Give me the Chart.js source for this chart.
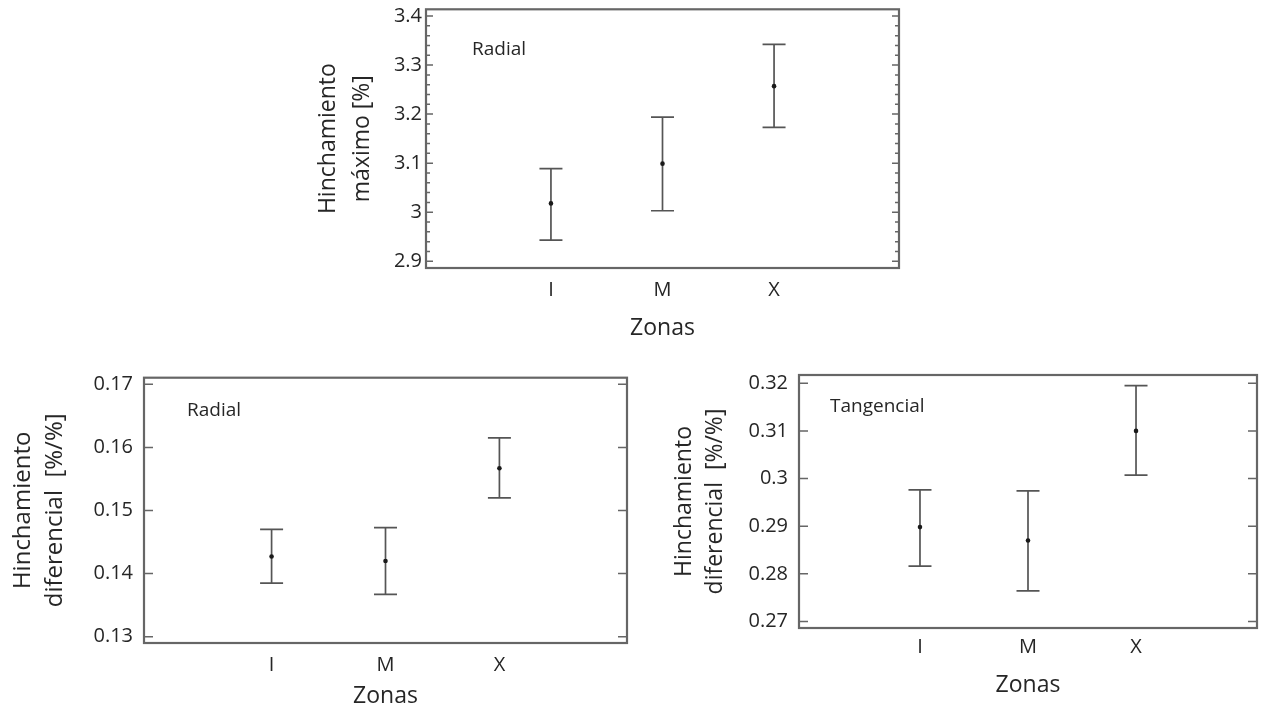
<!DOCTYPE html>
<html>
<head>
<meta charset="utf-8">
<script src="https://cdn.jsdelivr.net/npm/chart.js@4/dist/chart.umd.min.js"></script>
<style>
  html, body { margin: 0; padding: 0; background: #ffffff; width: 1261px; height: 712px; overflow: hidden; }
  .panel { position: absolute; }
</style>
</head>
<body>
<div class="panel" style="left:300px;top:-10px;width:620px;height:355px"><canvas id="c1"></canvas></div>
<div class="panel" style="left:0px;top:350px;width:640px;height:362px"><canvas id="c2"></canvas></div>
<div class="panel" style="left:660px;top:350px;width:601px;height:362px"><canvas id="c3"></canvas></div>
<script>
// ---------- data ----------
const zonas = ['I', 'M', 'X'];
const zonaPos = [1, 2, 3];

// Panel 1: Hinchamiento máximo [%], radial
const maxMean = [3.018, 3.099, 3.257];
const maxLow  = [2.943, 3.003, 3.173];
const maxHigh = [3.089, 3.194, 3.342];
const maxTicks = [2.9, 3.0, 3.1, 3.2, 3.3, 3.4];
const maxTickLabels = ['2.9', '3', '3.1', '3.2', '3.3', '3.4'];

// Panel 2: Hinchamiento diferencial [%/%], radial
const radMean = [0.1427, 0.1420, 0.1567];
const radLow  = [0.1385, 0.1367, 0.1520];
const radHigh = [0.1470, 0.1473, 0.1615];
const radTicks = [0.13, 0.14, 0.15, 0.16, 0.17];
const radTickLabels = ['0.13', '0.14', '0.15', '0.16', '0.17'];

// Panel 3: Hinchamiento diferencial [%/%], tangencial
const tanMean = [0.2898, 0.2870, 0.3100];
const tanLow  = [0.2816, 0.2764, 0.3007];
const tanHigh = [0.2976, 0.2974, 0.3195];
const tanTicks = [0.27, 0.28, 0.29, 0.30, 0.31, 0.32];
const tanTickLabels = ['0.27', '0.28', '0.29', '0.3', '0.31', '0.32'];

// ---------- style ----------
const FONT = "'Open Sans', 'Noto Sans', sans-serif";
const WEIGHT = '500';
const TXT = '#262626';
const LINE = '#555555';

const panelPlugin = {
  id: 'panel',
  beforeDatasetsDraw(chart, args, o) {
    const ctx = chart.ctx, xs = chart.scales.x, ys = chart.scales.y;
    ctx.save();
    ctx.strokeStyle = LINE;
    ctx.lineWidth = 1.7;
    for (let i = 0; i < o.pos.length; i++) {
      const px = xs.getPixelForValue(o.pos[i]);
      const pl = ys.getPixelForValue(o.low[i]);
      const ph = ys.getPixelForValue(o.high[i]);
      ctx.beginPath();
      ctx.moveTo(px, pl); ctx.lineTo(px, ph);
      ctx.moveTo(px - 11.5, pl); ctx.lineTo(px + 11.5, pl);
      ctx.moveTo(px - 11.5, ph); ctx.lineTo(px + 11.5, ph);
      ctx.stroke();
    }
    ctx.restore();
  },
  afterDraw(chart, args, o) {
    const ctx = chart.ctx, ys = chart.scales.y, ca = chart.chartArea;
    ctx.save();
    ctx.strokeStyle = '#666666';
    ctx.lineWidth = 2.2;
    ctx.strokeRect(ca.left, ca.top, ca.right - ca.left, ca.bottom - ca.top);
    ctx.lineWidth = 1.5;
    ctx.beginPath();
    ys.ticks.forEach(t => {
      const py = ys.getPixelForValue(t.value);
      ctx.moveTo(ca.left, py); ctx.lineTo(ca.left + o.majorLen, py);
      ctx.moveTo(ca.right, py); ctx.lineTo(ca.right - o.majorLen, py);
    });
    if (o.minorStep) {
      const first = ys.ticks[0].value, last = ys.ticks[ys.ticks.length - 1].value;
      const n = Math.round((last - first) / o.minorStep);
      for (let k = 0; k <= n; k++) {
        if (k % o.minorPer === 0) continue;
        const py = ys.getPixelForValue(first + k * o.minorStep);
        ctx.moveTo(ca.left, py); ctx.lineTo(ca.left + o.minorLen, py);
        ctx.moveTo(ca.right, py); ctx.lineTo(ca.right - o.minorLen, py);
      }
    }
    ctx.stroke();
    ctx.fillStyle = TXT;
    ctx.font = WEIGHT + ' 19px ' + FONT;
    ctx.textBaseline = 'alphabetic';
    ctx.textAlign = 'left';
    ctx.fillText(o.note, ca.left + o.noteDx, ca.top + o.noteDy);
    ctx.restore();
  }
};

function makeChart(id, cfg) {
  return new Chart(document.getElementById(id), {
    type: 'scatter',
    data: {
      datasets: [{
        data: zonaPos.map((p, i) => ({ x: p, y: cfg.mean[i] })),
        pointRadius: 2.3,
        pointBackgroundColor: '#1a1a1a',
        pointBorderWidth: 0,
        showLine: false
      }]
    },
    options: {
      responsive: true,
      maintainAspectRatio: false,
      animation: false,
      events: [],
      layout: { padding: cfg.padding },
      plugins: {
        legend: { display: false },
        tooltip: { enabled: false },
        panel: {
          pos: zonaPos, low: cfg.low, high: cfg.high,
          majorLen: cfg.majorLen, minorStep: cfg.minorStep, minorPer: cfg.minorPer, minorLen: 4,
          note: cfg.note, noteDx: cfg.noteDx, noteDy: cfg.noteDy
        }
      },
      scales: {
        x: {
          type: 'linear',
          min: -0.12, max: 4.12,
          afterBuildTicks: s => { s.ticks = zonaPos.map(v => ({ value: v })); },
          afterFit: s => { s.height = cfg.xHeight; },
          grid: { display: false, drawTicks: false },
          border: { display: false },
          ticks: {
            padding: cfg.xTickPad, autoSkip: false, maxRotation: 0,
            color: TXT, font: { family: FONT, size: 20, weight: WEIGHT },
            callback: (v, i) => zonas[i]
          },
          title: {
            display: true, text: 'Zonas', color: TXT,
            font: { family: FONT, size: 23, weight: WEIGHT, lineHeight: cfg.titleLH },
            padding: { top: 0, bottom: cfg.xTitlePad }
          }
        },
        y: {
          type: 'linear',
          min: cfg.yMin, max: cfg.yMax,
          afterBuildTicks: s => { s.ticks = cfg.ticks.map(v => ({ value: v })); },
          afterFit: s => { s.width = cfg.yWidth; },
          grid: { display: false, drawTicks: false },
          border: { display: false },
          ticks: {
            padding: cfg.yTickPad, autoSkip: false,
            color: TXT, font: { family: FONT, size: 20, weight: WEIGHT },
            callback: (v, i) => cfg.tickLabels[i]
          },
          title: {
            display: true, text: cfg.yTitle, color: TXT,
            font: { family: FONT, size: cfg.yTitleSize, weight: WEIGHT, lineHeight: cfg.titleLH },
            padding: { top: cfg.yTitlePad, bottom: 0 }
          }
        }
      }
    },
    plugins: [panelPlugin]
  });
}

makeChart('c1', {
  mean: maxMean, low: maxLow, high: maxHigh,
  ticks: maxTicks, tickLabels: maxTickLabels,
  yMin: 2.8863, yMax: 3.4137,
  padding: { left: 0, top: 19.3, right: 21, bottom: 0 },
  yWidth: 126, xHeight: 77,
  yTickPad: 4, xTickPad: 10,
  yTitle: ['Hinchamiento', 'máximo [%]'], yTitleSize: 23, titleLH: '34px', yTitlePad: 11, xTitlePad: 0,
  majorLen: 7, minorStep: 0.02, minorPer: 5,
  note: 'Radial', noteDx: 46, noteDy: 46
});

makeChart('c2', {
  mean: radMean, low: radLow, high: radHigh,
  ticks: radTicks, tickLabels: radTickLabels,
  yMin: 0.12900, yMax: 0.17105,
  padding: { left: 0, top: 27.7, right: 13, bottom: 0 },
  yWidth: 144, xHeight: 69,
  yTickPad: 11, xTickPad: 10,
  yTitle: ['Hinchamiento', 'diferencial  [%/%]'], yTitleSize: 24, titleLH: '32px', yTitlePad: 7, xTitlePad: 0,
  majorLen: 9, minorStep: 0, minorPer: 1,
  note: 'Radial', noteDx: 43, noteDy: 38
});

makeChart('c3', {
  mean: tanMean, low: tanLow, high: tanHigh,
  ticks: tanTicks, tickLabels: tanTickLabels,
  yMin: 0.26862, yMax: 0.32174,
  padding: { left: 0, top: 25, right: 4, bottom: 0 },
  yWidth: 139, xHeight: 84,
  yTickPad: 11, xTickPad: 7,
  yTitle: ['Hinchamiento', 'diferencial  [%/%]'], yTitleSize: 23, titleLH: '31px', yTitlePad: 9, xTitlePad: 11,
  majorLen: 9, minorStep: 0, minorPer: 1,
  note: 'Tangencial', noteDx: 31, noteDy: 37
});
</script>
</body>
</html>
